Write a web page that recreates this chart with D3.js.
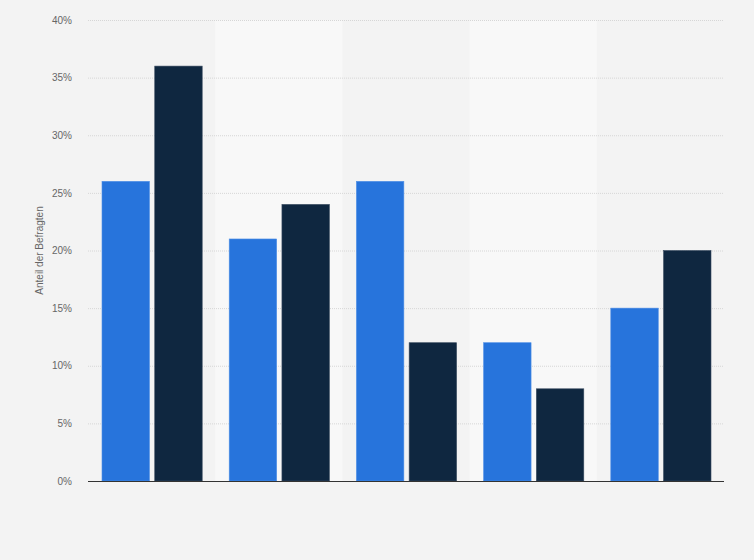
<!DOCTYPE html>
<html><head><meta charset="utf-8">
<script src="https://cdn.jsdelivr.net/npm/d3@7"></script>
<style>body{margin:0;background:#f3f3f3;}svg{display:block;font-family:"Liberation Sans",Arial,sans-serif;}</style>
</head><body>
<svg id="c" width="754" height="560"></svg>
<script>
const categories = ["A","B","C","D","E"];
const series1 = [26, 21, 26, 12, 15];
const series2 = [36, 24, 12, 8, 20];
const yTicks = [0,5,10,15,20,25,30,35,40];
const seriesColors = ["#2774dc", "#0f2740"];

const svg = d3.select("#c");
const m = {left:88, right:30, top:20, bottom:79};
const W = 754, H = 560;
const x = d3.scaleBand().domain(categories).range([m.left, W - m.right]).paddingInner(0).paddingOuter(0);
const y = d3.scaleLinear().domain([0,40]).range([H - m.bottom, m.top]);

svg.append("rect").attr("width",W).attr("height",H).attr("fill","#f3f3f3");

// alternating bands
svg.append("g").selectAll("rect").data(categories.filter((d,i)=>i%2===1)).join("rect")
  .attr("x", d=>x(d)).attr("y", y(40)).attr("width", x.bandwidth()).attr("height", y(0)-y(40))
  .attr("fill","#f8f8f8");

// grid
svg.append("g").selectAll("line").data(yTicks.filter(t=>t>0)).join("line")
  .attr("x1", m.left).attr("x2", W - m.right).attr("y1", d=>y(d)+0.5).attr("y2", d=>y(d)+0.5)
  .attr("stroke","#d6d6d6").attr("stroke-dasharray","1,1").attr("stroke-width",1);

// y axis labels
const yAxis = d3.axisLeft(y).tickValues(yTicks).tickFormat(d=>d+"%").tickSize(0).tickPadding(16);
const ga = svg.append("g").attr("transform",`translate(${m.left},0)`).call(yAxis);
ga.select(".domain").remove();
ga.selectAll("text").attr("fill","#666").attr("font-size","10px").attr("font-family","Liberation Sans, Arial, sans-serif");

// bars
const inner = d3.scaleBand().domain([0,1]).range([14, x.bandwidth()-13]).paddingInner(0.1).paddingOuter(0);
const g = svg.append("g");
[series1, series2].forEach((s, si) => {
  g.selectAll(null).data(s).join("rect")
    .attr("x", (d,i)=>x(categories[i]) + inner(si))
    .attr("y", d=>y(d))
    .attr("width", inner.bandwidth())
    .attr("height", d=>y(0)-y(d))
    .attr("fill", seriesColors[si])
    .attr("stroke", si===0 ? "#4f8fe6" : "#3a4c61").attr("stroke-width",0.6);
});

// baseline
svg.append("line").attr("x1", m.left).attr("x2", W - m.right).attr("y1", y(0)+0.5).attr("y2", y(0)+0.5)
  .attr("stroke","#333").attr("stroke-width",1.2);

// y title
svg.append("text").attr("transform",`translate(43,${(y(0)+y(40))/2}) rotate(-90)`)
  .attr("text-anchor","middle").attr("fill","#666").attr("font-size","10px").text("Anteil der Befragten");
</script>
</body></html>
